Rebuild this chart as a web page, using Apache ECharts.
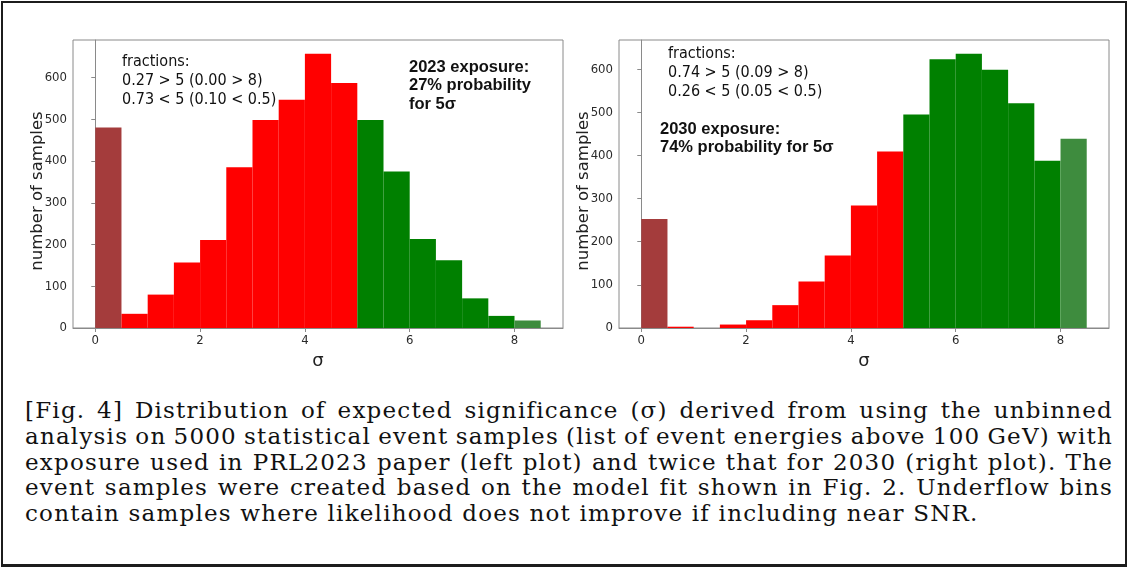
<!DOCTYPE html>
<html>
<head>
<meta charset="utf-8">
<script src="https://cdn.jsdelivr.net/npm/echarts@6/dist/echarts.min.js"></script>
<style>
  html, body { margin: 0; padding: 0; background: #fff; }
  #frame { position: absolute; left: 1px; top: 1px; width: 1126px; height: 566px; box-sizing: border-box;
           border: 2px solid #1c1c1c; border-bottom-width: 3px; }
  #chart { position: absolute; left: 0; top: 0; width: 1129px; height: 380px; }
  #caption { position: absolute; left: 25px; top: 398px; width: 1088px; color: #111;
             font-family: 'DejaVu Serif', serif; font-size: 23px; line-height: 25.8px; letter-spacing: 1.2px; }
  #caption div { white-space: nowrap; }
</style>
</head>
<body>
<div id="frame"></div>
<div id="chart"></div>
<div id="caption"></div>
<script>
// histogram bins (left edges, width 0.5)
const binStart = [0, 0.5, 1, 1.5, 2, 2.5, 3, 3.5, 4, 4.5, 5, 5.5, 6, 6.5, 7, 7.5, 8];
const binWidth = 0.5;
const counts2023 = [480, 34, 80, 157, 211, 385, 498, 547, 657, 587, 498, 375, 213, 162, 71, 29, 18];
const counts2030 = [253, 3, 0, 8, 18, 53, 108, 168, 284, 409, 495, 623, 636, 599, 521, 388, 439];
const xTicks = [0, 2, 4, 6, 8];
const yTicks = [0, 100, 200, 300, 400, 500, 600];

const frac2023 = ['fractions:', '0.27 > 5 (0.00 > 8)', '0.73 < 5 (0.10 < 0.5)'];
const note2023 = ['2023 exposure:', '27% probability', 'for 5σ'];
const frac2030 = ['fractions:', '0.74 > 5 (0.09 > 8)', '0.26 < 5 (0.05 < 0.5)'];
const note2030 = ['2030 exposure:', '74% probability for 5σ'];

const captionLines = [
  '[Fig. 4] Distribution of expected significance (σ) derived from using the unbinned',
  'analysis on 5000 statistical event samples (list of event energies above 100 GeV) with',
  'exposure used in PRL2023 paper (left plot) and twice that for 2030 (right plot). The',
  'event samples were created based on the model fit shown in Fig. 2. Underflow bins',
  'contain samples where likelihood does not improve if including near SNR.'
];

// 颜色: underflow / <5 / >=5 / >=8
function binColor(x0) {
  if (x0 < 0.5) return '#a43c3c';
  if (x0 < 5) return '#ff0000';
  if (x0 < 8) return '#008000';
  return '#3e8c3e';
}

const tickFont = "'DejaVu Sans Condensed', 'DejaVu Sans', sans-serif";

function xAxis(idx) {
  return {
    type: 'value', gridIndex: idx, min: -0.425, max: 8.925,
    name: 'σ', nameLocation: 'middle', nameGap: 24, nameMoveOverlap: false,
    nameTextStyle: { fontSize: 18, color: '#222', fontFamily: 'DejaVu Sans' },
    axisLine: { show: true, onZero: false, lineStyle: { color: '#8a8a8a', width: 1 } },
    axisTick: { show: true, customValues: xTicks, length: 4, lineStyle: { color: '#8a8a8a' } },
    axisLabel: { customValues: xTicks, fontSize: 13, color: '#2a2a2a', margin: 6, fontFamily: tickFont },
    splitLine: { show: false }
  };
}

function yAxis(idx) {
  return {
    type: 'value', gridIndex: idx, min: 0, max: v => v.max * 1.05,
    name: 'number of samples', nameLocation: 'middle', nameRotate: 90, nameGap: 27, nameMoveOverlap: false,
    nameTextStyle: { fontSize: 16.5, color: '#222', fontFamily: 'DejaVu Sans', padding: [0, 14, 0, 0] },
    axisLine: { show: true, lineStyle: { color: '#8a8a8a', width: 1 } },
    axisTick: { show: true, customValues: yTicks, length: 4, lineStyle: { color: '#8a8a8a' } },
    axisLabel: { customValues: yTicks, fontSize: 13, color: '#2a2a2a', margin: 6, fontFamily: tickFont },
    splitLine: { show: false }
  };
}

function histSeries(idx, counts) {
  return {
    type: 'custom', xAxisIndex: idx, yAxisIndex: idx,
    data: binStart.map((x, i) => [x, x + binWidth, counts[i]]),
    encode: { x: [0, 1], y: 2 },
    renderItem: function (params, api) {
      const p0 = api.coord([api.value(0), api.value(2)]);
      const p1 = api.coord([api.value(1), 0]);
      return {
        type: 'rect',
        shape: { x: p0[0], y: p0[1], width: p1[0] - p0[0], height: p1[1] - p0[1] },
        style: { fill: binColor(api.value(0)) }
      };
    }
  };
}

function label(x, y, lines, bold) {
  return {
    type: 'text', left: x, top: y, z: 10,
    style: {
      text: lines.join('\n'),
      fill: '#111',
      font: bold ? "bold 16.5px 'Liberation Sans', Arial, sans-serif"
                 : "16px 'DejaVu Sans Condensed', 'DejaVu Sans', sans-serif",
      lineHeight: bold ? 18.5 : 19
    }
  };
}

const chart = echarts.init(document.getElementById('chart'));
chart.setOption({
  animation: false,
  grid: [
    { left: 73, right: 566, top: 40, height: 288, show: true, borderColor: '#8a8a8a', borderWidth: 1 },
    { left: 619, right: 20, top: 40, height: 288, show: true, borderColor: '#8a8a8a', borderWidth: 1 }
  ],
  xAxis: [xAxis(0), xAxis(1)],
  yAxis: [yAxis(0), yAxis(1)],
  series: [histSeries(0, counts2023), histSeries(1, counts2030)],
  graphic: [
    label(122, 52, frac2023, false),
    label(409, 58, note2023, true),
    label(668, 44, frac2030, false),
    label(660, 120, note2030, true)
  ]
});

// caption, each line justified to the full width except the last
const cap = document.getElementById('caption');
captionLines.forEach((t, i) => {
  const d = document.createElement('div');
  const s = document.createElement('span');
  s.textContent = t;
  d.appendChild(s);
  cap.appendChild(d);
  if (i < captionLines.length - 1) {
    const gaps = t.split(' ').length - 1;
    const extra = (1088 - s.getBoundingClientRect().width) / gaps;
    s.style.wordSpacing = extra + 'px';
  }
});
</script>
</body>
</html>
